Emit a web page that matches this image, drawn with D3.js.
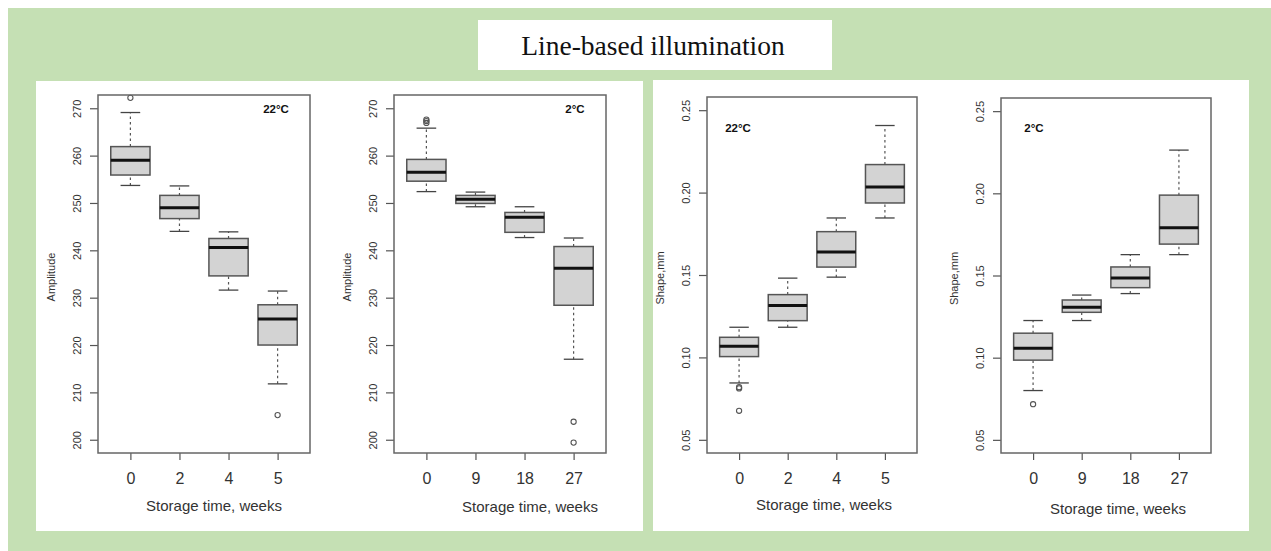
<!DOCTYPE html>
<html>
<head>
<meta charset="utf-8">
<script src="https://cdn.jsdelivr.net/npm/d3@7"></script>
<style>
  body { margin: 0; background: #fff; }
  svg { display: block; }
</style>
</head>
<body>
<svg id="chart"></svg>
<script>
const width = 1271;
const height = 551;

// storage weeks (x categories) per panel
const weeks22 = ["0", "2", "4", "5"];
const weeks2 = ["0", "9", "18", "27"];

// box stats: [lower whisker, q1, median, q3, upper whisker]
const amp22Stats = [
  [253.7, 255.9, 259.0, 261.9, 269.1],
  [244.0, 246.7, 249.0, 251.6, 253.6],
  [231.6, 234.6, 240.6, 242.5, 243.9],
  [211.8, 220.0, 225.5, 228.5, 231.4]
];
const amp22Outliers = [[272.2], [], [], [205.2]];

const amp2Stats = [
  [252.4, 254.6, 256.5, 259.2, 265.8],
  [249.2, 249.9, 250.8, 251.6, 252.3],
  [242.7, 243.8, 247.0, 248.0, 249.2],
  [217.0, 228.4, 236.2, 240.8, 242.6]
];
const amp2Outliers = [[266.9, 267.3, 267.6], [], [], [203.8, 199.4]];

const shape22Stats = [
  [0.0845, 0.1005, 0.1068, 0.1122, 0.1183],
  [0.1183, 0.1223, 0.1315, 0.1381, 0.1481],
  [0.1487, 0.1548, 0.1639, 0.1763, 0.1846],
  [0.1846, 0.1937, 0.2034, 0.2170, 0.2407]
];
const shape22Outliers = [[0.0819, 0.0812, 0.0676], [], [], []];

const shape2Stats = [
  [0.0800, 0.0985, 0.1057, 0.1149, 0.1226],
  [0.1226, 0.1276, 0.1307, 0.1351, 0.1381],
  [0.1390, 0.1426, 0.1485, 0.1552, 0.1627],
  [0.1627, 0.1691, 0.1791, 0.1989, 0.2263]
];
const shape2Outliers = [[0.0717], [], [], []];

const ampTicks = [200, 210, 220, 230, 240, 250, 260, 270];
const shapeTicks = [0.05, 0.10, 0.15, 0.20, 0.25];

const panels = [
  { cats: weeks22, stats: amp22Stats, outliers: amp22Outliers, ticks: ampTicks, ylim: [200, 270], fmt: d3.format("d"),
    ylab: "Amplitude", temp: "22°C", left: 98, top: 95, w: 212, h: 358, tempDx: 178, tempY: 109, xlabDx: 10, xlabY: 506 },
  { cats: weeks2, stats: amp2Stats, outliers: amp2Outliers, ticks: ampTicks, ylim: [200, 270], fmt: d3.format("d"),
    ylab: "Amplitude", temp: "2°C", left: 394, top: 95, w: 212, h: 358, tempDx: 181, tempY: 109, xlabDx: 30, xlabY: 507 },
  { cats: weeks22, stats: shape22Stats, outliers: shape22Outliers, ticks: shapeTicks, ylim: [0.05, 0.25], fmt: d3.format(".2f"),
    ylab: "Shape,mm", temp: "22°C", left: 707, top: 97, w: 210, h: 356, tempDx: 31, tempY: 128, xlabDx: 12, xlabY: 505 },
  { cats: weeks2, stats: shape2Stats, outliers: shape2Outliers, ticks: shapeTicks, ylim: [0.05, 0.25], fmt: d3.format(".2f"),
    ylab: "Shape,mm", temp: "2°C", left: 1001, top: 98, w: 210, h: 355, tempDx: 33, tempY: 128, xlabDx: 12, xlabY: 509 }
];

const svg = d3.select("#chart").attr("width", width).attr("height", height);

// green frame + white cards
svg.append("rect").attr("width", width).attr("height", height).attr("fill", "#fff");
svg.append("rect").attr("x", 8).attr("y", 8).attr("width", width - 8).attr("height", height - 8).attr("fill", "#c5e0b4");
svg.append("rect").attr("x", 36).attr("y", 81).attr("width", 607).attr("height", 450).attr("fill", "#fff");
svg.append("rect").attr("x", 653).attr("y", 80).attr("width", 596).attr("height", 451).attr("fill", "#fff");
svg.append("rect").attr("x", 478).attr("y", 20).attr("width", 354).attr("height", 50).attr("fill", "#fff");

svg.append("text")
  .attr("x", 653).attr("y", 55)
  .attr("text-anchor", "middle")
  .attr("font-family", "'Liberation Serif', 'Times New Roman', serif")
  .attr("font-size", 27.5)
  .attr("fill", "#111")
  .text("Line-based illumination");

const sans = "'Liberation Sans', Arial, Helvetica, sans-serif";

panels.forEach(p => {
  const g = svg.append("g");
  const pad = (p.ylim[1] - p.ylim[0]) * 0.04;
  const y = d3.scaleLinear().domain([p.ylim[0] - pad, p.ylim[1] + pad]).range([p.top + p.h, p.top]);
  const x = d3.scaleLinear().domain([0.34, 4.66]).range([p.left, p.left + p.w]);
  const unit = x(1) - x(0);
  const bw = unit * 0.8;

  // y axis (R style: ticks outward, rotated labels)
  const yAxis = g.append("g")
    .attr("transform", `translate(${p.left},0)`)
    .call(d3.axisLeft(y).tickValues(p.ticks).tickFormat(p.fmt).tickSize(8).tickPadding(0));
  yAxis.select(".domain").remove();
  yAxis.selectAll(".tick line").attr("stroke", "#555").attr("stroke-width", 1.2);
  yAxis.selectAll(".tick text")
    .attr("transform", "translate(-21,0) rotate(-90)")
    .attr("x", 0).attr("dy", "0.35em")
    .attr("text-anchor", "middle")
    .attr("font-family", sans).attr("font-size", 11).attr("fill", "#333");

  // x axis
  const xAxis = g.append("g")
    .attr("transform", `translate(0,${p.top + p.h})`)
    .call(d3.axisBottom(x).tickValues([1, 2, 3, 4]).tickFormat((d, i) => p.cats[i]).tickSize(7).tickPadding(0));
  xAxis.select(".domain").remove();
  xAxis.selectAll(".tick line").attr("stroke", "#555").attr("stroke-width", 1.2);
  xAxis.selectAll(".tick text")
    .attr("y", 25).attr("dy", "0.35em")
    .attr("font-family", sans).attr("font-size", 16).attr("fill", "#333");

  // whiskers
  const boxes = g.selectAll(".bx").data(p.stats).enter().append("g").attr("class", "bx");
  boxes.append("line")
    .attr("x1", (d, i) => x(i + 1)).attr("x2", (d, i) => x(i + 1))
    .attr("y1", d => y(d[0])).attr("y2", d => y(d[1]))
    .attr("stroke", "#555").attr("stroke-width", 1.2).attr("stroke-dasharray", "2.5,3");
  boxes.append("line")
    .attr("x1", (d, i) => x(i + 1)).attr("x2", (d, i) => x(i + 1))
    .attr("y1", d => y(d[3])).attr("y2", d => y(d[4]))
    .attr("stroke", "#555").attr("stroke-width", 1.2).attr("stroke-dasharray", "2.5,3");
  [0, 4].forEach(k => {
    boxes.append("line")
      .attr("x1", (d, i) => x(i + 1) - bw / 4).attr("x2", (d, i) => x(i + 1) + bw / 4)
      .attr("y1", d => y(d[k])).attr("y2", d => y(d[k]))
      .attr("stroke", "#444").attr("stroke-width", 1.3);
  });
  boxes.append("rect")
    .attr("x", (d, i) => x(i + 1) - bw / 2).attr("width", bw)
    .attr("y", d => y(d[3])).attr("height", d => y(d[1]) - y(d[3]))
    .attr("fill", "#d3d3d3").attr("stroke", "#555").attr("stroke-width", 1.5);
  boxes.append("line")
    .attr("x1", (d, i) => x(i + 1) - bw / 2).attr("x2", (d, i) => x(i + 1) + bw / 2)
    .attr("y1", d => y(d[2])).attr("y2", d => y(d[2]))
    .attr("stroke", "#111").attr("stroke-width", 3);

  // outliers
  p.outliers.forEach((arr, i) => {
    g.selectAll(null).data(arr).enter().append("circle")
      .attr("cx", x(i + 1)).attr("cy", d => y(d)).attr("r", 2.6)
      .attr("fill", "none").attr("stroke", "#555").attr("stroke-width", 1.1);
  });

  // plot frame
  g.append("rect")
    .attr("x", p.left).attr("y", p.top).attr("width", p.w).attr("height", p.h)
    .attr("fill", "none").attr("stroke", "#666").attr("stroke-width", 1.5);

  g.append("text")
    .attr("x", p.left + p.tempDx).attr("y", p.tempY).attr("dy", "0.35em")
    .attr("text-anchor", "middle")
    .attr("font-family", sans).attr("font-weight", "bold").attr("font-size", 11.5).attr("fill", "#111")
    .text(p.temp);

  g.append("text")
    .attr("transform", `translate(${p.left - 47},${p.top + p.h / 2 + 3}) rotate(-90)`)
    .attr("dy", "0.35em")
    .attr("text-anchor", "middle")
    .attr("font-family", sans).attr("font-size", 11).attr("fill", "#333")
    .text(p.ylab);

  g.append("text")
    .attr("x", p.left + p.w / 2 + p.xlabDx).attr("y", p.xlabY).attr("dy", "0.35em")
    .attr("text-anchor", "middle")
    .attr("font-family", sans).attr("font-size", 15).attr("fill", "#333")
    .text("Storage time, weeks");
});
</script>
</body>
</html>
